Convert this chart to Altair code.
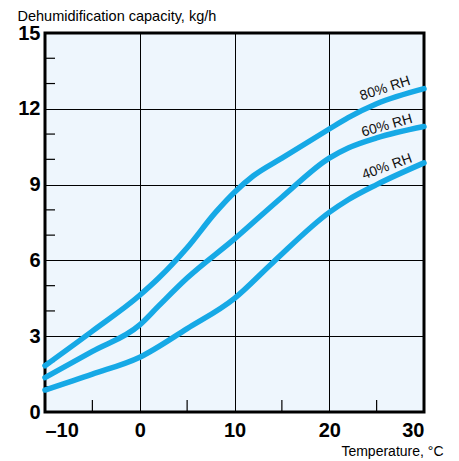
import altair as alt
import pandas as pd

temps_80 = [-10, -5, 0, 2, 5, 8, 10, 12, 15, 20, 22, 25, 30]
vals_80 = [1.83, 3.2, 4.62, 5.3, 6.5, 7.9, 8.7, 9.35, 10.05, 11.2, 11.65, 12.2, 12.8]
temps_60 = [-10, -5, 0, 2, 5, 10, 15, 20, 22, 25, 30]
vals_60 = [1.36, 2.4, 3.45, 4.2, 5.3, 6.85, 8.5, 10.05, 10.45, 10.85, 11.3]
temps_40 = [-10, -5, 0, 5, 10, 14, 20, 22, 25, 30]
vals_40 = [0.87, 1.5, 2.17, 3.3, 4.5, 5.9, 7.9, 8.4, 9.0, 9.86]

series_names = ["80% RH", "60% RH", "40% RH"]
label_x = [25.9, 26.1, 26.1]
label_y = [12.8, 11.33, 9.7]
label_angle = [342, 344, 340]

x_ticks = [-10, 0, 10, 20, 30]
y_ticks = [0, 3, 6, 9, 12, 15]
x_minor = [-5, 5, 15, 25]
y_minor = [1, 2, 4, 5, 7, 8, 10, 11, 13, 14]

rows = []
for name, ts, vs in zip(series_names, [temps_80, temps_60, temps_40], [vals_80, vals_60, vals_40]):
    for t, v in zip(ts, vs):
        rows.append({"series": name, "temp": t, "cap": v})
df = pd.DataFrame(rows)
labels = pd.DataFrame({"series": series_names, "temp": label_x, "cap": label_y, "angle": label_angle})

BLUE = "#16a9e6"
FONT = "Liberation Sans"

xscale = alt.Scale(domain=[-10, 30], nice=False, zero=False)
yscale = alt.Scale(domain=[0, 15], nice=False, zero=False)

lines = alt.Chart(df).mark_line(strokeWidth=5.5, strokeCap="round", interpolate="monotone").encode(
    x=alt.X("temp:Q", scale=xscale, axis=alt.Axis(
        values=x_ticks, grid=True, gridColor="black", gridWidth=1, gridOpacity=1,
        ticks=False, tickSize=0, domain=False, labelFont=FONT, labelFontWeight="bold",
        labelFontSize=20, labelColor="black", labelPadding=8,
        labelExpr="replace(datum.label, '−', '–')",
        title="Temperature, °C", titleFont=FONT, titleFontSize=14, titleFontWeight="normal",
        titleColor="black", titleAnchor="end", titleAlign="right", titleX=398, titleY=43,
        titleBaseline="alphabetic")),
    y=alt.Y("cap:Q", scale=yscale, axis=alt.Axis(
        values=y_ticks, grid=True, gridColor="black", gridWidth=1, gridOpacity=1,
        ticks=False, tickSize=0, domain=False, labelFont=FONT, labelFontWeight="bold",
        labelFontSize=20, labelColor="black", labelPadding=5,
        title="Dehumidification capacity, kg/h", titleFont=FONT, titleFontSize=14.5,
        titleFontWeight="normal", titleColor="black", titleAngle=0, titleAlign="left",
        titleX=-28, titleY=-13, titleBaseline="alphabetic")),
    color=alt.Color("series:N", scale=alt.Scale(domain=series_names, range=[BLUE, BLUE, BLUE]), legend=None),
    detail="series:N",
)

text = alt.Chart(labels).mark_text(font=FONT, fontSize=14, fontWeight="normal", color="#111").encode(
    x=alt.X("temp:Q", scale=xscale),
    y=alt.Y("cap:Q", scale=yscale),
    text="series:N",
    angle=alt.Angle("angle:Q", scale=None),
)

ytick_df = pd.DataFrame({"v": y_minor})
xtick_df = pd.DataFrame({"v": x_minor})
yt = alt.Chart(ytick_df).mark_rule(color="black", strokeWidth=1.2).encode(
    y=alt.Y("v:Q", scale=yscale), x=alt.value(0), x2=alt.value(10))
xt = alt.Chart(xtick_df).mark_rule(color="black", strokeWidth=1.2).encode(
    x=alt.X("v:Q", scale=xscale), y=alt.value(379), y2=alt.value(367))

chart = alt.layer(yt, xt, lines, text).properties(
    width=379, height=379,
    autosize=alt.AutoSizeParams(type="none"),
    padding={"left": 37, "top": 25, "right": 20, "bottom": 48},
    background="white",
).configure_view(fill="#eef6fd", stroke="black", strokeWidth=3)

chart.save("out.html", embed_options={"renderer": "svg", "actions": False})
